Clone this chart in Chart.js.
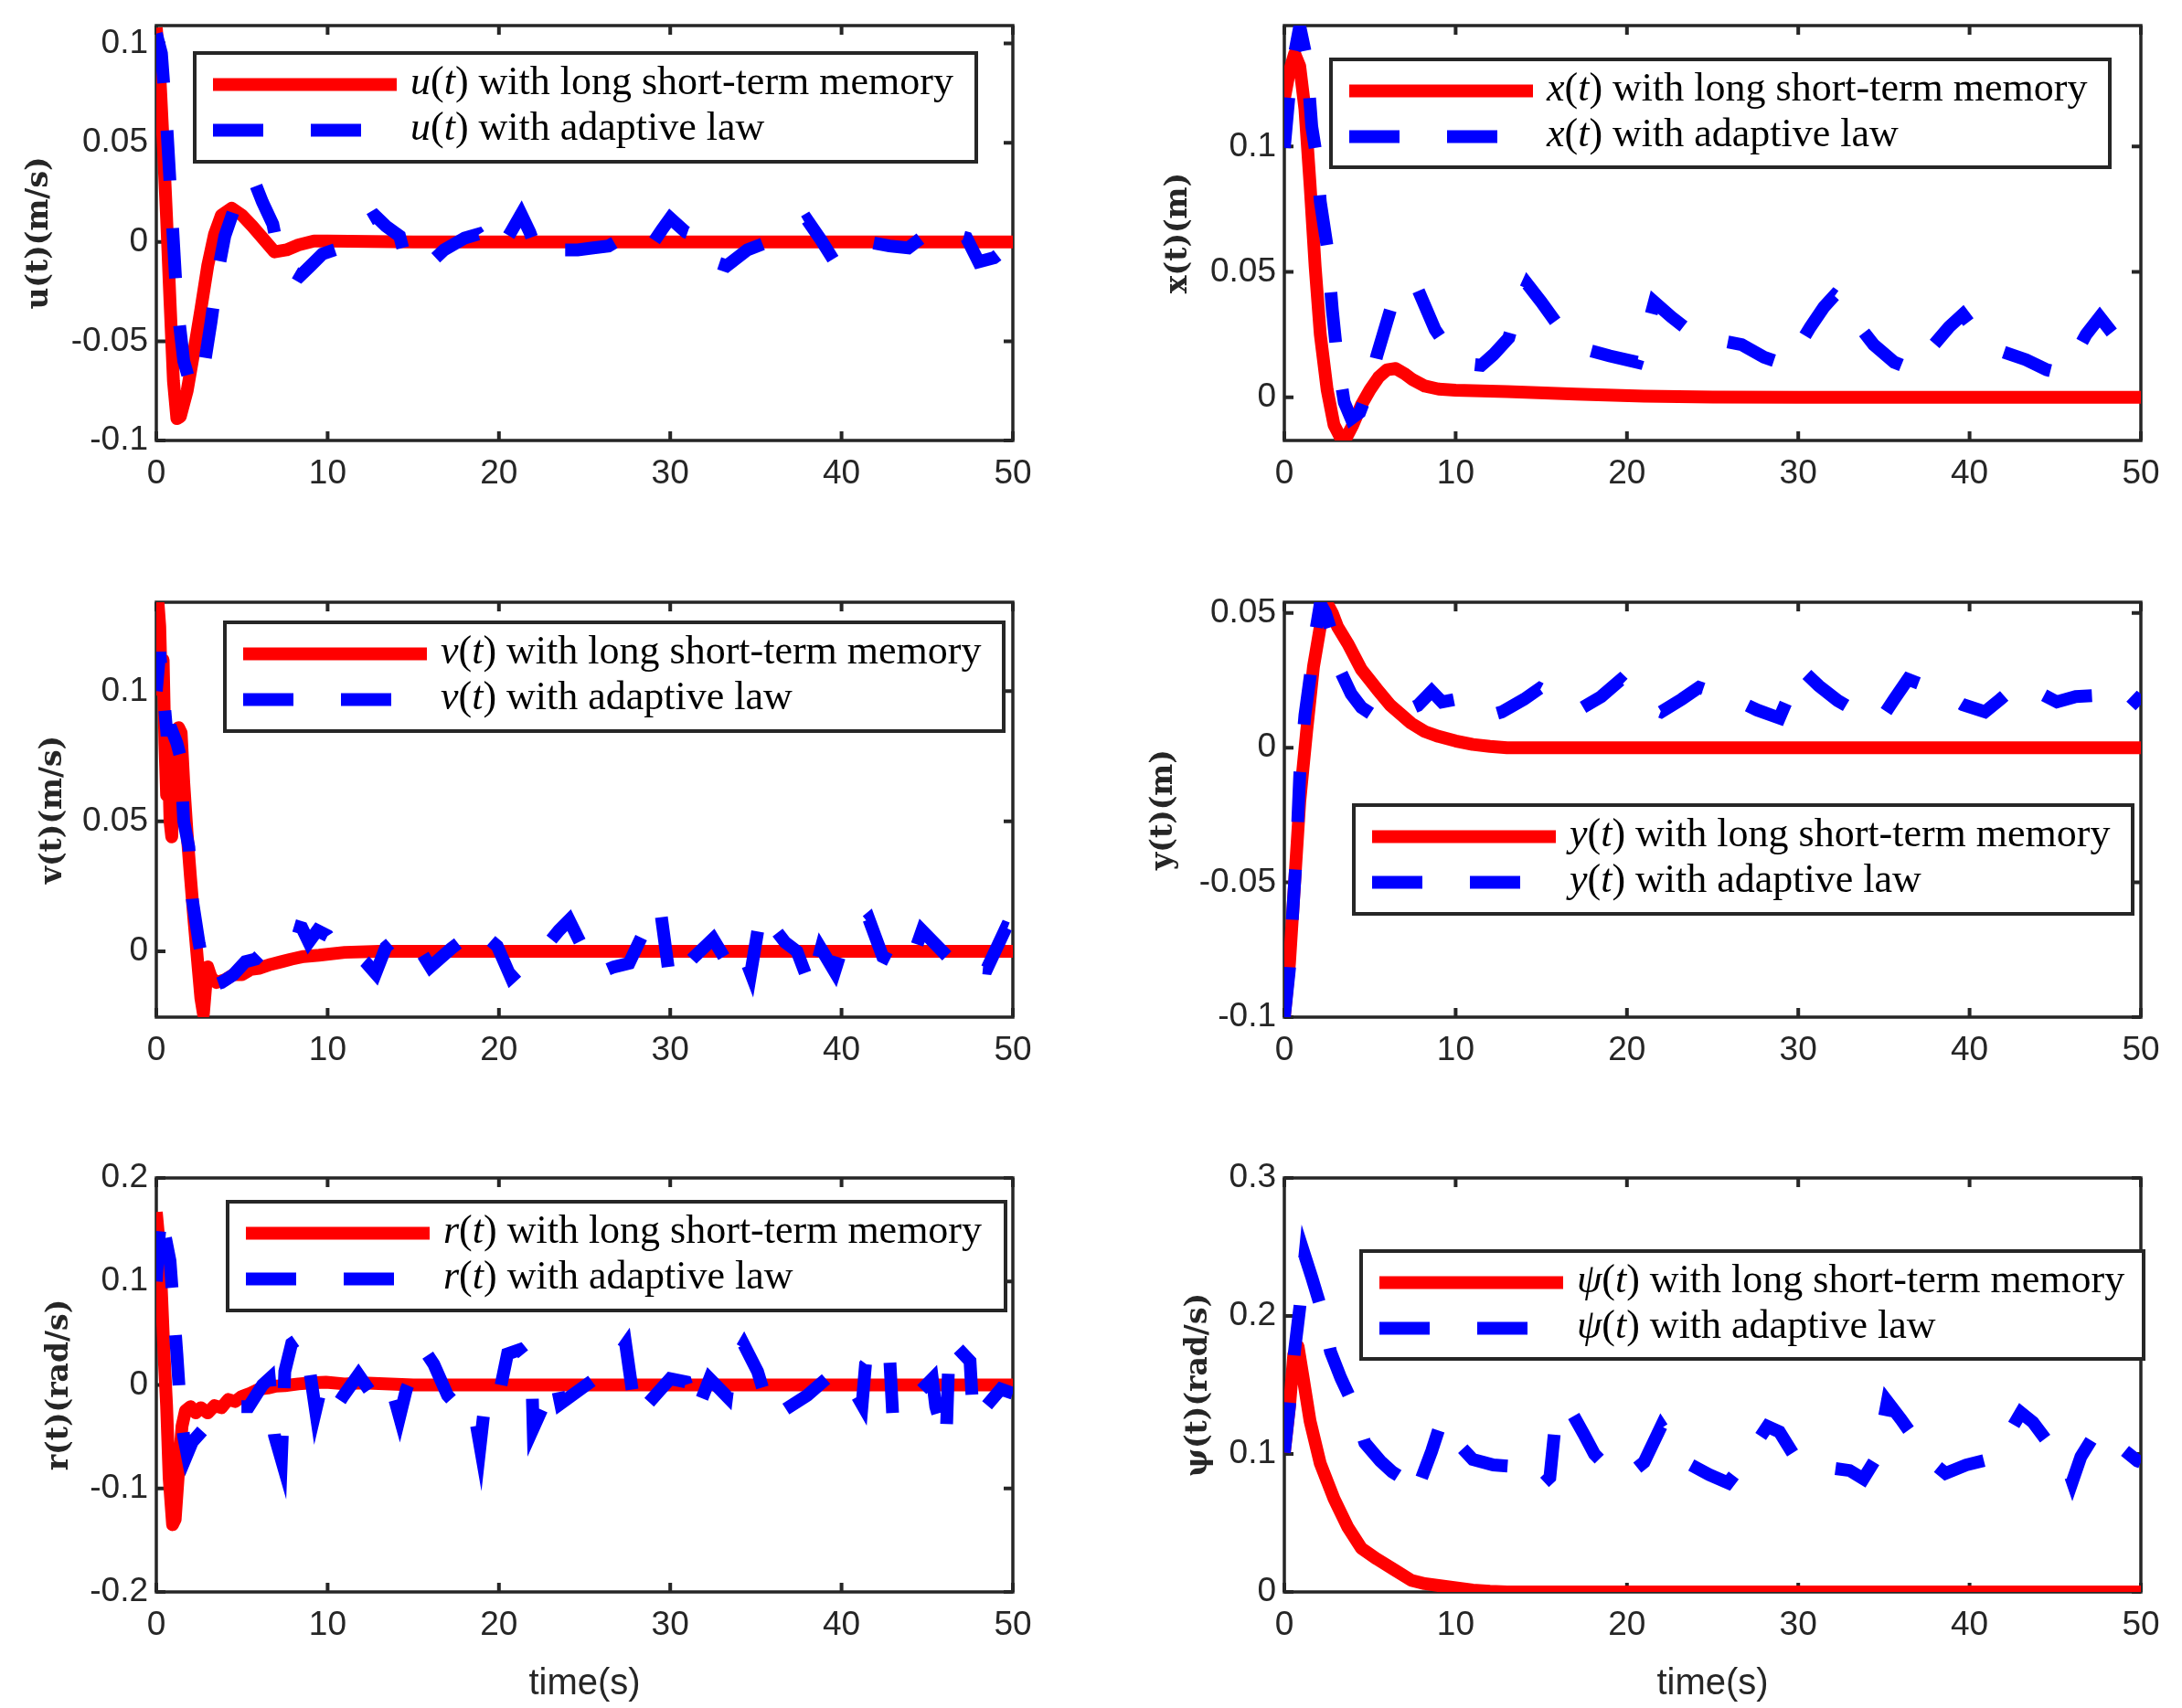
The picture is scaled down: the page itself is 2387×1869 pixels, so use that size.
<!DOCTYPE html>
<html><head><meta charset="utf-8">
<script src="https://cdn.jsdelivr.net/npm/chart.js@4.4.1/dist/chart.umd.min.js"></script>
<style>
html,body{margin:0;padding:0;background:#fff;width:2387px;height:1869px;overflow:hidden;position:relative;}
canvas{position:absolute;}
</style></head><body>
<script>
// ---------------- data ----------------
const timeTicks = [0, 10, 20, 30, 40, 50];
const timeTickLabels = ['0', '10', '20', '30', '40', '50'];

const uTicks = [-0.1, -0.05, 0, 0.05, 0.1];
const uTickLabels = ['-0.1', '-0.05', '0', '0.05', '0.1'];
const xTicks = [0, 0.05, 0.1];
const xTickLabels = ['0', '0.05', '0.1'];
const vTicks = [0, 0.05, 0.1];
const vTickLabels = ['0', '0.05', '0.1'];
const yTicks = [-0.1, -0.05, 0, 0.05];
const yTickLabels = ['-0.1', '-0.05', '0', '0.05'];
const rTicks = [-0.2, -0.1, 0, 0.1, 0.2];
const rTickLabels = ['-0.2', '-0.1', '0', '0.1', '0.2'];
const psiTicks = [0, 0.1, 0.2, 0.3];
const psiTickLabels = ['0', '0.1', '0.2', '0.3'];

// [time, value] pairs
const uLstm = [[0,0.108],[0.2,0.085],[0.4,0.05],[0.6,0.012],[0.8,-0.03],[1.0,-0.07],[1.2,-0.089],[1.4,-0.088],[1.8,-0.075],[2.2,-0.055],[2.6,-0.034],[3.0,-0.012],[3.4,0.004],[3.8,0.0135],[4.4,0.017],[5.0,0.0135],[5.6,0.008],[6.2,0.002],[6.9,-0.005],[7.6,-0.004],[8.3,-0.0015],[9.2,0.0005],[10,0.0005],[15,0],[20,0],[25,0],[30,0],[35,0],[40,0],[45,0],[50,0]];
const uAdapt = [[0,0.105],[0.3,0.095],[0.6,0.06],[0.9,0.015],[1.2,-0.03],[1.6,-0.06],[2.0,-0.072],[2.4,-0.073],[2.8,-0.062],[3.2,-0.04],[3.6,-0.015],[4.0,0.003],[4.6,0.018],[5.2,0.03],[5.7,0.031],[6.2,0.02],[6.8,0.009],[7.2,-0.008],[7.8,-0.014],[8.4,-0.017],[9.0,-0.012],[9.7,-0.006],[10.4,-0.004],[11.1,-0.002],[11.8,0.004],[12.4,0.011],[12.8,0.013],[13.4,0.008],[14.2,0.003],[14.6,-0.01],[15.2,-0.012],[15.8,-0.012],[16.8,-0.004],[18,0.002],[18.8,0.004],[19.4,-0.004],[20,-0.005],[20.7,0.005],[21.3,0.014],[21.8,0.005],[22.3,-0.007],[23.4,-0.004],[24.6,-0.004],[25.5,-0.003],[26.4,-0.002],[27.2,0.002],[28,-0.002],[28.8,-0.003],[29.5,0.006],[30,0.012],[30.9,0.005],[31.9,0.002],[32.6,-0.01],[33.3,-0.012],[34.5,-0.004],[35.7,0],[36.8,0.004],[37.6,0.009],[38,0.011],[38.8,0.001],[39.6,-0.01],[40.4,-0.006],[41.6,0],[42.8,-0.002],[43.9,-0.003],[44.8,0.003],[45.7,0.007],[46.5,0.004],[47.3,0.002],[48,-0.01],[48.9,-0.008],[49.5,-0.004],[50,-0.005]];

const xLstm = [[0,0.119],[0.3,0.13],[0.6,0.137],[0.9,0.132],[1.2,0.115],[1.5,0.085],[1.8,0.052],[2.1,0.025],[2.5,0.003],[2.9,-0.011],[3.3,-0.0163],[3.6,-0.0163],[4.0,-0.011],[4.5,-0.003],[5.0,0.003],[5.5,0.008],[6.0,0.011],[6.5,0.0115],[7.0,0.0095],[7.5,0.007],[8.2,0.0045],[9.0,0.0033],[10,0.0028],[13,0.0023],[17,0.0013],[21,0.0005],[25,0.0001],[30,0],[40,0],[50,0]];
const xAdapt = [[0,0.0995],[0.4,0.13],[0.9,0.148],[1.3,0.135],[1.6,0.108],[1.9,0.095],[2.1,0.078],[2.5,0.06],[2.8,0.035],[3.1,0.015],[3.5,-0.002],[3.9,-0.0085],[4.4,-0.006],[4.9,0.003],[5.4,0.0166],[6.2,0.035],[6.8,0.043],[7.3,0.046],[7.8,0.043],[8.8,0.027],[9.8,0.017],[10.8,0.0133],[11.5,0.0128],[12.2,0.017],[13.1,0.0237],[13.6,0.036],[14.2,0.045],[15.0,0.038],[15.9,0.0295],[16.9,0.022],[17.9,0.0185],[19,0.0165],[20.6,0.014],[21.1,0.025],[21.6,0.038],[22.6,0.032],[23.8,0.0256],[25.2,0.023],[26.7,0.021],[28,0.016],[29.3,0.013],[30,0.02],[30.7,0.028],[31.5,0.036],[32.1,0.0405],[32.8,0.037],[33.6,0.028],[34.4,0.021],[35.6,0.014],[36.8,0.0107],[37.8,0.02],[38.8,0.028],[39.6,0.033],[40.7,0.023],[42,0.018],[43.3,0.015],[44.5,0.011],[45.2,0.0098],[46,0.015],[46.8,0.025],[47.6,0.032],[48.4,0.025],[49.2,0.0166],[50,0.012]];

const vLstm = [[0,0.11],[0.1,0.134],[0.2,0.125],[0.3,0.1],[0.4,0.112],[0.5,0.08],[0.6,0.06],[0.7,0.075],[0.8,0.05],[0.9,0.044],[1.0,0.062],[1.1,0.05],[1.2,0.07],[1.3,0.086],[1.45,0.084],[1.6,0.065],[1.8,0.045],[2.0,0.028],[2.2,0.012],[2.4,-0.003],[2.6,-0.018],[2.75,-0.024],[2.9,-0.012],[3.0,-0.006],[3.2,-0.01],[3.5,-0.012],[4.0,-0.011],[4.5,-0.009],[5.0,-0.009],[5.5,-0.007],[6.0,-0.0065],[6.7,-0.005],[7.3,-0.004],[7.9,-0.003],[8.6,-0.002],[9.5,-0.0015],[11,-0.0004],[13,0],[20,0],[30,0],[40,0],[50,0]];
const vAdapt = [[0,0.1],[0.2,0.115],[0.4,0.1],[0.6,0.085],[0.9,0.085],[1.2,0.08],[1.4,0.075],[1.6,0.05],[1.9,0.04],[2.1,0.02],[2.5,0.003],[2.9,-0.01],[3.2,-0.0134],[3.8,-0.012],[4.5,-0.009],[5.2,-0.004],[5.8,-0.003],[6.5,0.0016],[7.2,0.004],[8.0,0.01],[8.5,0.009],[8.9,0.0035],[9.4,0.008],[10.0,0.006],[10.5,0.001],[11.5,0],[12.2,-0.004],[12.8,-0.0085],[13.4,0.0016],[14.4,0.0073],[15.4,0.0004],[16,-0.006],[17.2,0.001],[18,0.005],[18.5,0.01],[19.9,0.002],[20.7,-0.01],[22.1,-0.0015],[22.7,0.0016],[23.5,0.008],[24.1,0.012],[25,0],[25.8,-0.0085],[26.7,-0.006],[27.6,-0.0046],[28.5,0.008],[29.4,0.0173],[30,-0.012],[31.3,-0.0028],[32.5,0.0048],[33.3,-0.004],[34.1,0.002],[34.7,-0.0084],[35.3,0.0154],[36.7,0.0035],[37.4,0],[38.2,-0.014],[38.8,0.001],[39.6,-0.0078],[40.2,0.0048],[41.6,0.0123],[42.4,-0.002],[43.9,-0.007],[44.7,0.008],[46.3,-0.0028],[47.1,0],[47.7,-0.006],[48.5,-0.0065],[49.6,0.009],[50,0.008]];

const yLstm = [[0,-0.1],[0.3,-0.08],[0.6,-0.05],[0.9,-0.02],[1.3,0.006],[1.7,0.03],[2.1,0.045],[2.5,0.0535],[2.8,0.05],[3.1,0.045],[3.7,0.0387],[4.5,0.029],[5.4,0.0218],[6.2,0.0157],[7.4,0.0091],[8.2,0.006],[9.0,0.0042],[10,0.0025],[11,0.0012],[12,0.0005],[13,0],[20,0],[30,0],[40,0],[50,0]];
const yAdapt = [[0,-0.1],[0.3,-0.082],[0.5,-0.06],[0.7,-0.04],[0.9,-0.01],[1.2,0.012],[1.5,0.026],[1.8,0.042],[2.1,0.0535],[2.4,0.05],[2.9,0.04],[3.3,0.028],[3.9,0.02],[4.5,0.015],[5.2,0.012],[5.8,0.011],[6.6,0.012],[7.2,0.014],[7.8,0.0157],[8.6,0.021],[9.2,0.017],[10,0.018],[11,0.015],[12,0.012],[12.7,0.0133],[14,0.018],[14.9,0.022],[15.8,0.019],[16.6,0.016],[17.3,0.0145],[18.5,0.019],[19.6,0.025],[20.6,0.019],[21.3,0.015],[22,0.0133],[23.2,0.018],[24.2,0.0224],[25.3,0.02],[26.3,0.018],[27.6,0.014],[28.9,0.011],[29.5,0.02],[30.1,0.0296],[31.2,0.023],[32.3,0.0175],[33.5,0.013],[34.8,0.0103],[35.6,0.018],[36.4,0.0254],[37.4,0.023],[38.4,0.0206],[39.6,0.016],[40.9,0.0133],[41.8,0.018],[42.7,0.023],[43.2,0.024],[44.2,0.02],[45.1,0.017],[46.2,0.019],[47.4,0.0194],[48.4,0.0133],[49.2,0.014],[49.8,0.018],[50,0.017]];

const rLstm = [[0,0.167],[0.15,0.14],[0.3,0.09],[0.45,0.03],[0.6,-0.02],[0.75,-0.09],[0.95,-0.135],[1.1,-0.13],[1.3,-0.083],[1.5,-0.04],[1.7,-0.025],[2.0,-0.021],[2.3,-0.027],[2.6,-0.022],[3.0,-0.027],[3.4,-0.02],[3.8,-0.022],[4.2,-0.014],[4.6,-0.016],[5.0,-0.011],[5.5,-0.008],[6.0,-0.004],[6.5,-0.003],[7.0,-0.001],[7.5,-0.0007],[8.3,0.001],[9.0,0.002],[9.9,0.0027],[11,0.001],[12,0.002],[15,0],[20,0],[30,0],[40,0],[50,0]];
const rAdapt = [[0,0.1],[0.15,0.14],[0.3,0.168],[0.5,0.145],[0.8,0.12],[1.0,0.075],[1.2,0.03],[1.4,-0.02],[1.6,-0.05],[1.8,-0.067],[2.1,-0.055],[2.8,-0.042],[3.6,-0.035],[4.6,-0.021],[5.4,-0.021],[6.2,0],[6.6,0.006],[6.9,-0.049],[7.3,-0.072],[7.5,0.013],[7.9,0.04],[8.5,0.047],[8.9,0.02],[9.3,-0.025],[9.6,-0.004],[10.3,-0.026],[10.9,-0.011],[11.8,0.01],[12.8,-0.014],[13.4,0],[13.8,-0.007],[14.2,-0.031],[14.6,-0.004],[15.6,0.035],[16.2,0.02],[17.0,-0.01],[17.8,-0.025],[18.5,-0.021],[18.9,-0.059],[19.3,0],[20.1,-0.002],[20.5,0.03],[21.2,0.034],[21.9,0.02],[22.0,-0.042],[23.3,0.006],[23.6,-0.018],[25.6,0.006],[26,0.006],[27.4,0.039],[28.0,-0.031],[30,0.006],[30.9,0.003],[31.5,-0.028],[32.3,0.006],[33.3,-0.011],[33.5,0.016],[34.3,0.039],[35.1,0.013],[35.9,-0.031],[36.3,-0.028],[38,-0.01],[39.6,0.013],[40.2,0.01],[41.2,-0.019],[41.4,0.02],[42.3,0.04],[42.8,0.03],[43,-0.033],[45.3,0.006],[45.5,-0.021],[46.1,-0.055],[46.3,0.044],[47.5,0.023],[47.7,-0.035],[49.3,-0.004],[50,-0.008]];

const psiLstm = [[0,0.101],[0.3,0.134],[0.55,0.172],[0.8,0.178],[1.1,0.155],[1.5,0.124],[2.1,0.093],[2.9,0.0676],[3.7,0.047],[4.5,0.0316],[5.4,0.0239],[6.4,0.0162],[7.4,0.0085],[8.2,0.006],[9,0.0046],[10,0.003],[11,0.0013],[12,0.0005],[13,0],[20,0],[30,0],[40,0],[50,0]];
const psiAdapt = [[0,0.101],[0.3,0.135],[0.6,0.175],[0.9,0.206],[1.2,0.2435],[1.6,0.228],[2.1,0.2075],[2.7,0.174],[3.3,0.155],[3.9,0.139],[4.7,0.108],[5.6,0.095],[6.3,0.087],[6.8,0.083],[7.3,0.072],[7.6,0.069],[8.6,0.102],[9.2,0.125],[10.1,0.108],[11,0.096],[12.2,0.092],[13.3,0.091],[14.3,0.08],[14.8,0.075],[15.5,0.083],[15.9,0.132],[16.6,0.134],[17.5,0.114],[18.1,0.1],[18.8,0.091],[19.9,0.083],[21,0.094],[22,0.12],[22.8,0.105],[23.6,0.093],[24.8,0.085],[25.9,0.079],[26.7,0.092],[27.5,0.107],[28.2,0.12],[28.9,0.116],[29.7,0.1],[30.5,0.092],[31.8,0.09],[33,0.088],[33.8,0.082],[34.6,0.098],[35.2,0.138],[36,0.125],[36.8,0.111],[37.7,0.095],[38.6,0.086],[39.8,0.092],[41.1,0.096],[41.7,0.105],[42.3,0.115],[43,0.13],[43.7,0.123],[44.6,0.108],[45.5,0.098],[46,0.08],[46.5,0.098],[47.2,0.112],[47.8,0.118],[48.8,0.105],[49.8,0.095],[50,0.094]];

// ---------------- layout (page pixels) ----------------
const panels = [
  {sym:'u', yTitle:'u(t)(m/s)', yMin:-0.1, yMax:0.109, ticks:uTicks, tickLabels:uTickLabels, lstm:uLstm, adapt:uAdapt,
   box:[171,28,1108,482], yTitleX:43, legend:[213,58,1068,177], xTitle:false},
  {sym:'x', yTitle:'x(t)(m)', yMin:-0.0172, yMax:0.1482, ticks:xTicks, tickLabels:xTickLabels, lstm:xLstm, adapt:xAdapt,
   box:[1405,28,2342,482], yTitleX:1289, legend:[1456,65,2308,183], xTitle:false},
  {sym:'v', yTitle:'v(t)(m/s)', yMin:-0.0253, yMax:0.1342, ticks:vTicks, tickLabels:vTickLabels, lstm:vLstm, adapt:vAdapt,
   box:[171,659,1108,1113], yTitleX:58, legend:[246,681,1098,800], xTitle:false},
  {sym:'y', yTitle:'y(t)(m)', yMin:-0.1, yMax:0.054, ticks:yTicks, tickLabels:yTickLabels, lstm:yLstm, adapt:yAdapt,
   box:[1405,659,2342,1113], yTitleX:1273, legend:[1481,881,2333,1000], xTitle:false},
  {sym:'r', yTitle:'r(t)(rad/s)', yMin:-0.2, yMax:0.2, ticks:rTicks, tickLabels:rTickLabels, lstm:rLstm, adapt:rAdapt,
   box:[171,1289,1108,1742], yTitleX:65, legend:[249,1315,1100,1434], xTitle:true},
  {sym:'ψ', yTitle:'ψ(t)(rad/s)', yMin:0, yMax:0.3, ticks:psiTicks, tickLabels:psiTickLabels, lstm:psiLstm, adapt:psiAdapt,
   box:[1405,1289,2342,1742], yTitleX:1311, legend:[1489,1369,2345,1487], xTitle:true}
];

const AX = '#262626';
const LW = 14;
const DASH = [55, 52];
const LM = 200, TM = 45, RM = 45;

function drawRich(ctx, parts, x, y, size) {
  let cx = x;
  parts.forEach(p => {
    ctx.font = (p.i ? 'italic ' : '') + size + 'px "Liberation Serif"';
    ctx.fillText(p.t, cx, y);
    cx += ctx.measureText(p.t).width;
  });
}

function makeChart(p) {
  const [l, t, r, b] = p.box;
  const BM = p.xTitle ? 150 : 80;
  const cl = l - LM, ct = t - TM;
  const W = (r - l) + LM + RM, H = (b - t) + TM + BM;
  const c = document.createElement('canvas');
  c.width = W; c.height = H;
  c.style.left = cl + 'px'; c.style.top = ct + 'px';
  c.style.width = W + 'px'; c.style.height = H + 'px';
  document.body.appendChild(c);
  const titleSize = 33, titleLH = 1.2 * titleSize;

  const framePlugin = {
    id: 'matlabFrame',
    beforeDatasetsDraw(chart) {
      const {ctx, chartArea: ca, scales} = chart;
      ctx.save();
      ctx.strokeStyle = AX; ctx.setLineDash([]);
      ctx.lineWidth = 3.5;
      ctx.strokeRect(ca.left, ca.top, ca.right - ca.left, ca.bottom - ca.top);
      ctx.lineWidth = 4;
      ctx.beginPath();
      scales.x.ticks.forEach(tk => {
        const px = scales.x.getPixelForValue(tk.value);
        ctx.moveTo(px, ca.bottom); ctx.lineTo(px, ca.bottom - 10);
        ctx.moveTo(px, ca.top); ctx.lineTo(px, ca.top + 10);
      });
      scales.y.ticks.forEach(tk => {
        const py = scales.y.getPixelForValue(tk.value);
        ctx.moveTo(ca.left, py); ctx.lineTo(ca.left + 10, py);
        ctx.moveTo(ca.right, py); ctx.lineTo(ca.right - 10, py);
      });
      ctx.stroke();
      ctx.restore();
    }
  };

  const legendPlugin = {
    id: 'matlabLegend',
    afterDatasetsDraw(chart) {
      const ctx = chart.ctx;
      const x1 = p.legend[0] - cl, y1 = p.legend[1] - ct, x2 = p.legend[2] - cl, y2 = p.legend[3] - ct;
      ctx.save();
      ctx.fillStyle = '#fff';
      ctx.fillRect(x1, y1, x2 - x1, y2 - y1);
      ctx.strokeStyle = AX; ctx.lineWidth = 4; ctx.setLineDash([]);
      ctx.strokeRect(x1, y1, x2 - x1, y2 - y1);
      const ds = chart.data.datasets;
      const rows = [{y: y1 + 34.5, d: ds[0], rest: ' with long short-term memory'},
                    {y: y1 + 84.5, d: ds[1], rest: ' with adaptive law'}];
      rows.forEach(row => {
        ctx.strokeStyle = row.d.borderColor;
        ctx.lineWidth = LW; ctx.lineCap = 'butt';
        ctx.setLineDash(row.d.borderDash || []);
        ctx.beginPath(); ctx.moveTo(x1 + 20, row.y); ctx.lineTo(x1 + 221, row.y); ctx.stroke();
        ctx.setLineDash([]);
        ctx.fillStyle = '#000'; ctx.textBaseline = 'alphabetic'; ctx.textAlign = 'left';
        drawRich(ctx, [{t:p.sym, i:true},{t:'(', i:false},{t:'t', i:true},{t:')', i:false},{t:row.rest, i:false}], x1 + 236, row.y + 10, 44);
      });
      ctx.restore();
    }
  };

  new Chart(c.getContext('2d'), {
    type: 'line',
    data: {
      datasets: [
        {label: p.sym + '(t) with long short-term memory', data: p.lstm.map(([x, y]) => ({x, y})),
         borderColor: '#ff0000', borderWidth: LW, pointRadius: 0, tension: 0, fill: false, order: 2, borderJoinStyle: 'round'},
        {label: p.sym + '(t) with adaptive law', data: p.adapt.map(([x, y]) => ({x, y})),
         borderColor: '#0000ff', borderWidth: LW, borderDash: DASH, pointRadius: 0, tension: 0, fill: false, order: 1}
      ]
    },
    options: {
      responsive: false, animation: false, devicePixelRatio: 1,
      layout: {padding: {left: 0, top: TM, right: RM, bottom: 0}},
      plugins: {legend: {display: false}, tooltip: {enabled: false}},
      scales: {
        x: {
          type: 'linear', min: 0, max: 50,
          afterBuildTicks: s => { s.ticks = timeTicks.map(v => ({value: v})); },
          afterFit: s => { s.height = BM; },
          grid: {display: false, drawTicks: false}, border: {display: false},
          ticks: {padding: 15, autoSkip: false, maxRotation: 0, color: AX,
                  font: {family: 'Liberation Sans', size: 37},
                  callback: (v, i) => timeTickLabels[i]},
          title: {display: !!p.xTitle, text: 'time(s)', color: AX,
                  font: {family: 'Liberation Sans', size: 40}, padding: {top: 0, bottom: 25}}
        },
        y: {
          type: 'linear', min: p.yMin, max: p.yMax,
          afterBuildTicks: s => { s.ticks = p.ticks.map(v => ({value: v})); },
          afterFit: s => { s.width = LM; },
          grid: {display: false, drawTicks: false}, border: {display: false},
          ticks: {padding: 9, autoSkip: false, color: AX,
                  font: {family: 'Liberation Sans', size: 37},
                  callback: (v, i) => p.tickLabels[i]},
          title: {display: true, text: p.yTitle, color: AX,
                  font: {family: 'DejaVu Serif', size: titleSize, weight: 'bold'},
                  padding: {top: (p.yTitleX - cl) - titleLH / 2, bottom: 0}}
        }
      }
    },
    plugins: [framePlugin, legendPlugin]
  });
}

panels.forEach(makeChart);
</script>
</body></html>
